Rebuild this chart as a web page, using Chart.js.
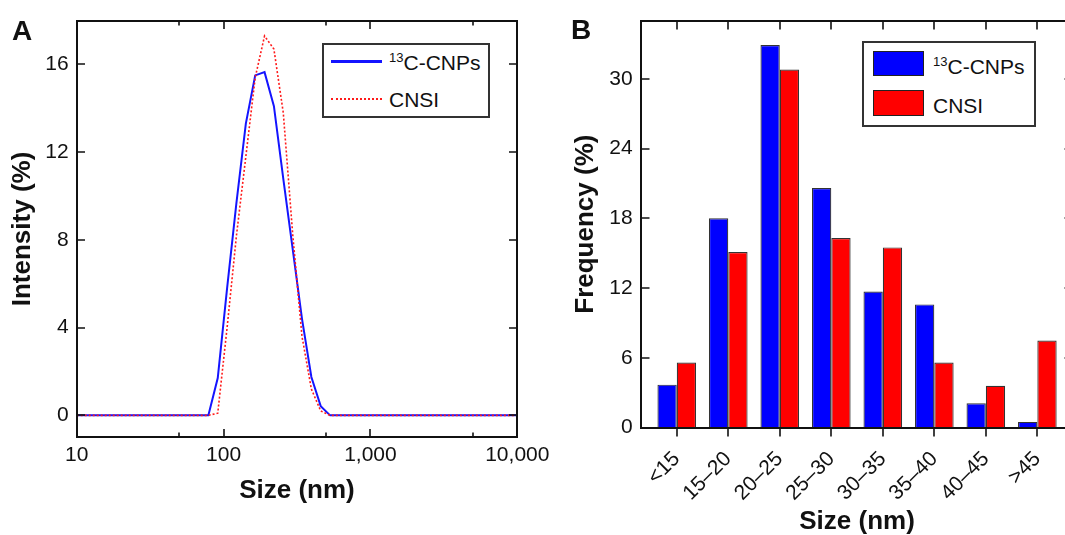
<!DOCTYPE html>
<html>
<head>
<meta charset="utf-8">
<title>Size distributions</title>
<script src="https://cdn.jsdelivr.net/npm/chart.js@4.4.1/dist/chart.umd.min.js"></script>
<style>
  html, body { margin: 0; padding: 0; background: #fff; }
  #fig { position: relative; width: 1065px; height: 535px; overflow: hidden;
         font-family: "Liberation Sans", Arial, sans-serif; color: #111; }
  canvas { position: absolute; top: 0; }
  #cA { left: 0; }
  #cB { left: 555px; }
  .panel { position: absolute; font-weight: bold; font-size: 28px; line-height: 1; }
  .legend { position: absolute; box-sizing: border-box; border: 2px solid #333; background: #fff; }
  .legend .txt { position: absolute; font-size: 21px; line-height: 1; white-space: nowrap; }
  .legend sup { font-size: 13px; line-height: 0; vertical-align: 0; position: relative; top: -8px; }
  .legend .sw { position: absolute; box-sizing: border-box; border: 1.5px solid #222; }
</style>
</head>
<body>
<div id="fig">
  <canvas id="cA" width="560" height="535"></canvas>
  <canvas id="cB" width="530" height="535"></canvas>

  <div class="panel" style="left:12px; top:17px">A</div>
  <div class="panel" style="left:571px; top:16px">B</div>

  <div class="legend" style="left:322px; top:43px; width:168px; height:75px">
    <div style="position:absolute; left:7px; top:15px; width:51px; height:3px; background:#1414ff"></div>
    <div class="txt" style="left:65px; top:7px"><sup>13</sup>C-CNPs</div>
    <div style="position:absolute; left:7px; top:53px; width:51px; height:0; border-top:2px dotted #ff1a1a"></div>
    <div class="txt" style="left:65px; top:44px">CNSI</div>
  </div>

  <div class="legend" style="left:862px; top:41px; width:174px; height:86px">
    <div class="sw" style="left:9px; top:8px; width:51px; height:25px; background:#0000ff"></div>
    <div class="txt" style="left:69px; top:13px"><sup>13</sup>C-CNPs</div>
    <div class="sw" style="left:9px; top:47px; width:51px; height:26px; background:#ff0000"></div>
    <div class="txt" style="left:69px; top:52px">CNSI</div>
  </div>
</div>

<script>
// ── Panel A: DLS intensity distribution ─────────────────────────────────────
const sizesA = [10, 78.82, 91.28, 105.7, 122.4, 141.8, 164.2, 190.1, 220.2, 255.0, 295.3, 342.0, 396.1, 458.7, 531.2, 10000];
const cnpsA  = [0, 0, 1.7, 5.8, 9.7, 13.3, 15.5, 15.65, 14.1, 10.8, 7.6, 4.4, 1.75, 0.42, 0, 0];
const cnsiA  = [0, 0, 0.1, 4.0, 8.2, 11.8, 15.4, 17.3, 16.7, 13.8, 8.3, 3.6, 1.2, 0.2, 0, 0];
const xTicksA = [10, 100, 1000, 10000];
const xTickLabelsA = ['10', '100', '1,000', '10,000'];
const xMinorA = [50, 500, 5000];
const yTicksA = [0, 4, 8, 12, 16];

// ── Panel B: TEM size histogram ─────────────────────────────────────────────
const sizeBins = ['<15', '15–20', '20–25', '25–30', '30–35', '35–40', '40–45', '>45'];
const cnpsB = [3.7, 18.0, 32.9, 20.6, 11.7, 10.6, 2.1, 0.5];
const cnsiB = [5.6, 15.1, 30.8, 16.3, 15.5, 5.6, 3.6, 7.5];
const yTicksB = [0, 6, 12, 18, 24, 30];

const BLUE = '#0000ff';
const RED = '#ff0000';
const INK = '#111';

Chart.defaults.font.family = '"Liberation Sans", Arial, sans-serif';
Chart.defaults.color = INK;

// box around the plot + tick marks, positions taken from the chart's scales
const frameTicks = {
  id: 'frameTicks',
  afterDraw(chart, args, o) {
    const { ctx, chartArea: a } = chart;
    const x = chart.scales.x, y = chart.scales.y;
    const L = Math.round(a.left), R = Math.round(a.right);
    const T = Math.round(a.top), B = Math.round(a.bottom);
    const seg = (x0, y0, x1, y1) => { ctx.moveTo(x0, y0); ctx.lineTo(x1, y1); };
    ctx.save();
    ctx.strokeStyle = '#111';
    ctx.lineWidth = 1.6;
    ctx.beginPath();
    o.xTicks.forEach(v => {
      const px = Math.round(x.getPixelForValue(v));
      seg(px, T, px, T + o.len);
      if (o.bottomOut) seg(px, B, px, B + o.len);
      else seg(px, B, px, B - o.len);
    });
    (o.xMinor || []).forEach(v => {
      const px = Math.round(x.getPixelForValue(v));
      seg(px, T, px, T + o.minorLen);
      seg(px, B, px, B - o.minorLen);
    });
    o.yTicks.forEach(v => {
      const py = Math.round(y.getPixelForValue(v));
      seg(L, py, L + o.len, py);
      seg(R, py, R - o.len, py);
    });
    ctx.stroke();
    ctx.lineWidth = 2;
    ctx.strokeRect(L, T, R - L, B - T);
    ctx.restore();
  }
};

const tickFont = { size: 21 };
const titleFont = { size: 26, weight: 'bold', lineHeight: 1 };

new Chart(document.getElementById('cA'), {
  type: 'line',
  data: {
    datasets: [
      {
        label: 'CNSI',
        data: sizesA.map((s, i) => ({ x: s, y: cnsiA[i] })),
        borderColor: '#ff1a1a',
        borderWidth: 1.6,
        borderDash: [2, 2],
        pointRadius: 0,
        tension: 0,
        order: 0,
      },
      {
        label: '13C-CNPs',
        data: sizesA.map((s, i) => ({ x: s, y: cnpsA[i] })),
        borderColor: '#1414ff',
        borderWidth: 2,
        pointRadius: 0,
        tension: 0,
        order: 1,
      }
    ]
  },
  options: {
    responsive: false,
    animation: false,
    events: [],
    layout: { padding: { top: 16, right: 42.7, left: 0, bottom: 0 } },
    plugins: {
      legend: { display: false },
      tooltip: { enabled: false },
      frameTicks: { xTicks: xTicksA, xMinor: xMinorA, yTicks: yTicksA, len: 8, minorLen: 4.5, bottomOut: false },
    },
    scales: {
      x: {
        type: 'logarithmic',
        min: 10, max: 10000,
        grid: { display: false, drawTicks: false },
        border: { display: false },
        afterBuildTicks: s => { s.ticks = xTicksA.map(v => ({ value: v })); },
        afterFit: s => { s.height = 97.7; },
        ticks: { autoSkip: false, maxRotation: 0, padding: 5, font: tickFont, callback: (v, i) => xTickLabelsA[i] },
        title: { display: true, text: 'Size (nm)', font: titleFont, padding: { top: 0, bottom: 31 } },
      },
      y: {
        min: -1, max: 18,
        grid: { display: false, drawTicks: false },
        border: { display: false },
        afterBuildTicks: s => { s.ticks = yTicksA.map(v => ({ value: v })); },
        afterFit: s => { s.width = 76.7; },
        ticks: { padding: 8, font: tickFont, callback: v => String(v) },
        title: { display: true, text: 'Intensity (%)', font: titleFont, padding: { top: 10, bottom: 0 } },
      }
    }
  },
  plugins: [frameTicks]
});

new Chart(document.getElementById('cB'), {
  type: 'bar',
  data: {
    datasets: [
      {
        label: '13C-CNPs',
        data: cnpsB.map((v, i) => ({ x: i, y: v })),
        backgroundColor: BLUE,
        borderColor: '#333',
        borderWidth: 1.2,
      },
      {
        label: 'CNSI',
        data: cnsiB.map((v, i) => ({ x: i, y: v })),
        backgroundColor: RED,
        borderColor: '#333',
        borderWidth: 1.2,
      }
    ]
  },
  options: {
    responsive: false,
    animation: false,
    events: [],
    datasets: { bar: { categoryPercentage: 0.75, barPercentage: 1 } },
    layout: { padding: { top: 15.7, right: 11.6, left: 0, bottom: 0 } },
    plugins: {
      legend: { display: false },
      tooltip: { enabled: false },
      frameTicks: { xTicks: sizeBins.map((_, i) => i), yTicks: yTicksB, len: 8.5, bottomOut: true },
    },
    scales: {
      x: {
        type: 'linear',
        min: -0.7, max: 7.7,
        offset: false,
        grid: { display: false, drawTicks: false },
        border: { display: false },
        afterBuildTicks: s => { s.ticks = sizeBins.map((_, i) => ({ value: i })); },
        afterFit: s => { s.height = 107.3; },
        ticks: { autoSkip: false, minRotation: 45, maxRotation: 45, padding: 19, font: tickFont, callback: v => sizeBins[v] },
        title: { display: true, text: 'Size (nm)', font: titleFont, padding: { top: 0, bottom: 0.5 } },
      },
      y: {
        min: 0, max: 35,
        grid: { display: false, drawTicks: false },
        border: { display: false },
        afterBuildTicks: s => { s.ticks = yTicksB.map(v => ({ value: v })); },
        afterFit: s => { s.width = 85.7; },
        ticks: { padding: 8, font: tickFont, callback: v => String(v) },
        title: { display: true, text: 'Frequency (%)', font: titleFont, padding: { top: 17.5, bottom: 0 } },
      }
    }
  },
  plugins: [frameTicks]
});
</script>
</body>
</html>
